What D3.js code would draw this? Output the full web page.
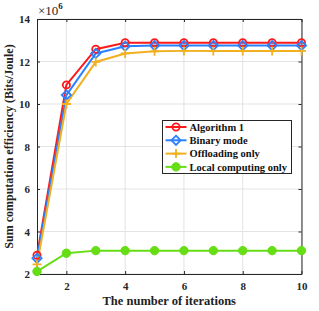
<!DOCTYPE html>
<html>
<head>
<meta charset="utf-8">
<script src="https://cdn.jsdelivr.net/npm/d3@7"></script>
<style>
  body { margin: 0; background: #fff; }
  svg { display: block; font-family: "Liberation Serif", "Times New Roman", serif; font-weight: bold; }
</style>
</head>
<body>
<div id="chart"></div>
<script>
// iterations on the x axis
const iterations = [1, 2, 3, 4, 5, 6, 7, 8, 9, 10];
// values in units of 1e6 bits/joule
const algorithm1 = [2.88, 10.9, 12.58, 12.88, 12.88, 12.88, 12.88, 12.88, 12.88, 12.88];
const binaryMode = [2.74, 10.42, 12.38, 12.72, 12.75, 12.75, 12.75, 12.75, 12.75, 12.75];
const offloadingOnly = [2.45, 10.0, 11.98, 12.38, 12.48, 12.5, 12.5, 12.5, 12.5, 12.5];
const localOnly = [2.12, 2.98, 3.1, 3.1, 3.1, 3.1, 3.1, 3.1, 3.1, 3.1];
const xTicks = [2, 4, 6, 8, 10];
const yTicks = [2, 4, 6, 8, 10, 12, 14];

const series = [
  {name: "Algorithm 1", values: algorithm1, color: "#ff1a1a", marker: "circle"},
  {name: "Binary mode", values: binaryMode, color: "#2a80ff", marker: "diamond"},
  {name: "Offloading only", values: offloadingOnly, color: "#f0b020", marker: "plus"},
  {name: "Local computing only", values: localOnly, color: "#66dd14", marker: "dot"}
];

const w = 319, h = 311;
const m = {left: 37, right: 17.5, top: 19, bottom: 37};

const svg = d3.select("#chart").append("svg")
  .attr("width", w).attr("height", h);

const x = d3.scaleLinear().domain([1, 10]).range([m.left, w - m.right]);
const y = d3.scaleLinear().domain([2, 14]).range([h - m.bottom, m.top]);

// grid
const grid = svg.append("g").attr("stroke", "#e3e3e3").attr("stroke-width", 1);
grid.selectAll("line.gx").data(xTicks).join("line")
  .attr("x1", d => x(d)).attr("x2", d => x(d))
  .attr("y1", y(2)).attr("y2", y(14));
grid.selectAll("line.gy").data(yTicks).join("line")
  .attr("x1", x(1)).attr("x2", x(10))
  .attr("y1", d => y(d)).attr("y2", d => y(d));

// axes with inward ticks
const axisColor = "#262626";
const styleAxis = g => {
  g.selectAll("path.domain").attr("stroke", axisColor);
  g.selectAll(".tick line").attr("stroke", axisColor);
  g.selectAll(".tick text").attr("fill", axisColor)
    .style("font-size", "11px").style("font-weight", "bold")
    .style("font-family", "'Liberation Serif', serif");
};
svg.append("g").attr("transform", `translate(0,${y(2)})`)
  .call(d3.axisBottom(x).tickValues(xTicks).tickSize(-3).tickPadding(8).tickSizeOuter(0))
  .call(styleAxis);
svg.append("g").attr("transform", `translate(0,${y(14)})`)
  .call(d3.axisTop(x).tickValues(xTicks).tickSize(-3).tickFormat("").tickSizeOuter(0))
  .call(styleAxis);
svg.append("g").attr("transform", `translate(${x(1)},0)`)
  .call(d3.axisLeft(y).tickValues(yTicks).tickSize(-3).tickPadding(7).tickSizeOuter(0))
  .call(styleAxis);
svg.append("g").attr("transform", `translate(${x(10)},0)`)
  .call(d3.axisRight(y).tickValues(yTicks).tickSize(-3).tickFormat("").tickSizeOuter(0))
  .call(styleAxis);

// exponent label
const ex = svg.append("text").attr("x", x(1) + 1).attr("y", 15)
  .attr("fill", axisColor).style("font-size", "13px").style("font-weight", "normal");
ex.append("tspan").text("\u00d710");
ex.append("tspan").attr("dy", -6).style("font-size", "9px").style("font-weight", "bold").text("6");

// lines
const line = d3.line().x((d, i) => x(iterations[i])).y(d => y(d));
svg.append("g").selectAll("path").data(series).join("path")
  .attr("d", d => line(d.values))
  .attr("fill", "none")
  .attr("stroke", d => d.color)
  .attr("stroke-width", 2);

function drawMarker(g, type, color, cx, cy) {
  if (type === "circle") {
    g.append("circle").attr("cx", cx).attr("cy", cy).attr("r", 3.6)
      .attr("fill", "none").attr("stroke", color).attr("stroke-width", 1.8);
  } else if (type === "diamond") {
    const r = 4.6;
    g.append("path").attr("d", `M${cx},${cy - r}L${cx + r},${cy}L${cx},${cy + r}L${cx - r},${cy}Z`)
      .attr("fill", "none").attr("stroke", color).attr("stroke-width", 1.8);
  } else if (type === "plus") {
    const r = 4.5;
    g.append("path").attr("d", `M${cx - r},${cy}H${cx + r}M${cx},${cy - r}V${cy + r}`)
      .attr("stroke", color).attr("stroke-width", 1.8);
  } else {
    g.append("circle").attr("cx", cx).attr("cy", cy).attr("r", 4.2)
      .attr("fill", color).attr("stroke", color).attr("stroke-width", 1);
  }
}

series.forEach(s => {
  const g = svg.append("g");
  s.values.forEach((v, i) => drawMarker(g, s.marker, s.color, x(iterations[i]), y(v)));
});

// legend
const lg = svg.append("g").attr("transform", "translate(162.5,120.5)");
lg.append("rect").attr("width", 129).attr("height", 53)
  .attr("fill", "#fff").attr("stroke", axisColor).attr("stroke-width", 1);
series.forEach((s, i) => {
  const cy = 6.5 + i * 13.3;
  const g = lg.append("g");
  g.append("line").attr("x1", 3).attr("x2", 24).attr("y1", cy).attr("y2", cy)
    .attr("stroke", s.color).attr("stroke-width", 2);
  drawMarker(g, s.marker, s.color, 13.5, cy);
  g.append("text").attr("x", 27).attr("y", cy + 3.6)
    .attr("fill", "#111").style("font-size", "10.5px").text(s.name);
});

// axis titles
svg.append("text").attr("x", (x(1) + x(10)) / 2).attr("y", 305)
  .attr("text-anchor", "middle").attr("fill", "#222").style("font-size", "12.5px")
  .text("The number of iterations");
svg.append("text").attr("transform", `translate(13,${(y(2) + y(14)) / 2}) rotate(-90)`)
  .attr("text-anchor", "middle").attr("fill", "#222").style("font-size", "12px")
  .text("Sum computation efficiency (Bits/Joule)");
</script>
</body>
</html>
